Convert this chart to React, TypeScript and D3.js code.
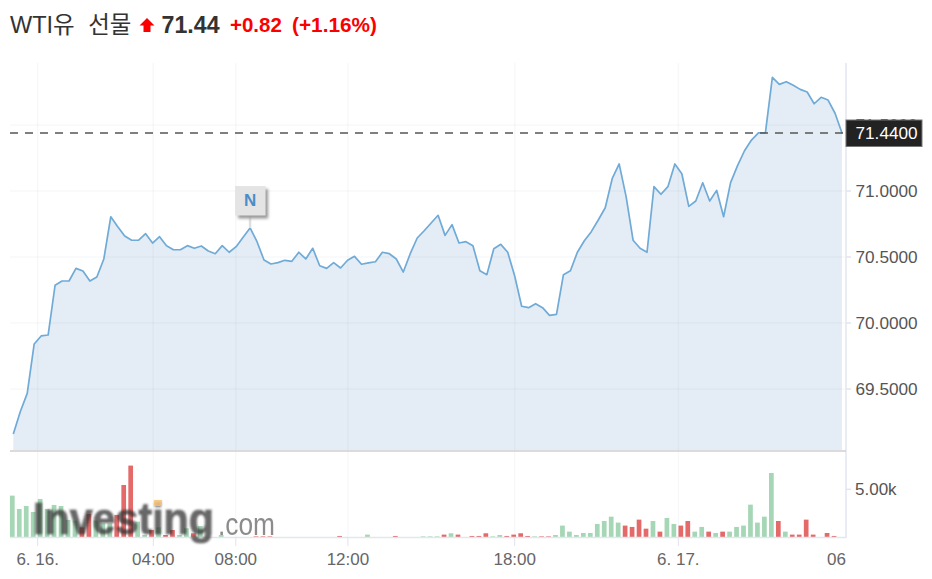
import React from "react";
import * as d3 from "d3";

const prices = [
  69.159, 69.328, 69.467, 69.841, 69.902, 69.909, 70.286, 70.318, 70.318, 70.414, 70.394, 70.318, 70.348, 70.485, 70.805, 70.73, 70.659, 70.627, 70.627, 70.677,
  70.606, 70.654, 70.586, 70.555, 70.555, 70.586, 70.566, 70.583, 70.545, 70.525, 70.586, 70.536, 70.578, 70.649, 70.72, 70.616, 70.477, 70.447, 70.457, 70.475,
  70.467, 70.536, 70.485, 70.566, 70.434, 70.414, 70.457, 70.417, 70.475, 70.505, 70.445, 70.455, 70.464, 70.536, 70.525, 70.485, 70.386, 70.525, 70.644, 70.699,
  70.758, 70.816, 70.664, 70.745, 70.606, 70.616, 70.586, 70.396, 70.366, 70.563, 70.596, 70.536, 70.356, 70.127, 70.116, 70.146, 70.116, 70.058, 70.066, 70.366,
  70.396, 70.536, 70.623, 70.692, 70.78, 70.873, 71.093, 71.205, 70.957, 70.627, 70.566, 70.536, 71.033, 70.975, 71.033, 71.205, 71.131, 70.884, 70.924, 71.063,
  70.924, 71.005, 70.805, 71.063, 71.192, 71.305, 71.386, 71.44, 71.44, 71.861, 71.808, 71.828, 71.801, 71.77, 71.75, 71.661, 71.71, 71.689, 71.589, 71.44,
];

const volumeUp = [
  4340, 2950, 3260, 2640, 3990, 2950, 3370, 3260, 1810, 1740, 0, 0, 1740, 1460, 1460, 0, 0, 0, 1630, 240,
  0, 1040, 0, 0, 240, 940, 0, 1180, 0, 0, 240, 0, 0, 0, 0, 0, 0, 0, 0, 0,
  0, 0, 0, 0, 0, 0, 0, 0, 0, 0, 0, 280, 0, 0, 0, 0, 0, 0, 0, 100,
  100, 100, 0, 420, 0, 0, 0, 0, 0, 100, 240, 0, 0, 0, 0, 100, 0, 0, 240, 1220,
  590, 240, 450, 450, 1390, 1700, 2150, 1530, 0, 0, 0, 0, 1700, 0, 2010, 1390, 0, 0, 590, 1080,
  0, 450, 0, 590, 1080, 1220, 3400, 1530, 2150, 6700, 0, 590, 0, 0, 0, 0, 0, 0, 0, 0,
];
const volumeDown = [
  0, 0, 0, 0, 0, 0, 0, 0, 0, 0, 1040, 2430, 0, 0, 0, 2330, 5450, 7470, 0, 0,
  760, 0, 240, 760, 0, 0, 420, 0, 0, 0, 0, 0, 0, 0, 0, 100, 100, 100, 0, 0,
  0, 0, 0, 0, 0, 0, 0, 140, 0, 0, 0, 0, 0, 0, 0, 140, 0, 0, 0, 0,
  0, 0, 280, 0, 280, 0, 140, 140, 420, 0, 0, 140, 280, 420, 140, 0, 100, 100, 0, 0,
  0, 0, 0, 0, 0, 0, 0, 0, 1220, 1080, 1840, 900, 0, 590, 0, 0, 1220, 1700, 0, 0,
  590, 0, 590, 0, 0, 0, 0, 0, 0, 0, 1700, 0, 280, 280, 1840, 280, 0, 450, 140, 0,
];

const priceTicks = [69.5, 70, 70.5, 71, 71.5];
const timeTickIndex = [3.5, 20.1, 31.95, 48.05, 72, 95.5];
const timeTickLabels = ["6. 16.", "04:00", "08:00", "12:00", "18:00", "6. 17."];
const lastPrice = 71.44;
const newsIndex = 34;

const FONT = '"Liberation Sans", Arial, "Noto Sans CJK KR", sans-serif';

const x = d3.scaleLinear().domain([0, prices.length - 1]).range([13.3, 842]);
const y = d3.scaleLinear().domain([69.5, 71]).range([389, 191]);
const yVol = d3.scaleLinear().domain([0, 5000]).range([537.3, 489.3]);

const PANEL_BOTTOM = 451;

export default function App() {
  const indices = d3.range(prices.length);
  const line = d3.line<number>().x((i) => x(i)).y((i) => y(prices[i]))(indices) ?? "";
  const area = d3.area<number>().x((i) => x(i)).y0(450).y1((i) => y(prices[i]))(indices) ?? "";
  const grid = "#7f8ca3";
  const nx = x(newsIndex);
  const ny = y(prices[newsIndex]);

  return (
    <svg
      width={932}
      height={579}
      style={{ position: "absolute", left: 0, top: 0, fontFamily: FONT }}
    >
      <defs>
        <filter id="logoBlur" x="-5%" y="-20%" width="110%" height="140%">
          <feGaussianBlur stdDeviation="1.2" />
        </filter>
        <filter id="lightBlur" x="-5%" y="-20%" width="110%" height="140%">
          <feGaussianBlur stdDeviation="0.5" />
        </filter>
        <filter id="softShadow" x="-30%" y="-30%" width="170%" height="170%">
          <feGaussianBlur stdDeviation="1.4" />
        </filter>
      </defs>
      <rect width={932} height={579} fill="#fff" />

      {/* header */}
      <text x={10} y={33} fontSize={23.5} fill="#333" wordSpacing={7}>WTI유 선물</text>
      <path d="M147 18 L154.5 25.5 L150.5 25.5 L150.5 32 L143.5 32 L143.5 25.5 L139.5 25.5 Z" fill="#fb0000" />
      <text x={161.5} y={33} fontSize={23.2} fontWeight="bold" fill="#333">71.44</text>
      <text x={230} y={32} fontSize={20.5} fontWeight="bold" fill="#fb0000">+0.82</text>
      <text x={292} y={32} fontSize={20.8} fontWeight="bold" fill="#fb0000">(+1.16%)</text>

      {/* area and line */}
      <path d={area} fill="#e4edf5" />
      {priceTicks.map((t) => (
        <line key={t} x1={10} x2={851} y1={y(t)} y2={y(t)} stroke={grid} strokeOpacity={0.06} strokeWidth={1.5} />
      ))}
      {timeTickIndex.map((t) => (
        <g key={t}>
          <line x1={x(t)} x2={x(t)} y1={63} y2={PANEL_BOTTOM} stroke={grid} strokeOpacity={0.06} strokeWidth={1.5} />
          <line x1={x(t)} x2={x(t)} y1={PANEL_BOTTOM} y2={537} stroke={grid} strokeOpacity={0.09} strokeWidth={1} />
          <line x1={x(t)} x2={x(t)} y1={537} y2={546} stroke="#dfe3ea" strokeWidth={1} />
        </g>
      ))}
      <path d={line} fill="none" stroke="#70aad7" strokeWidth={1.7} strokeLinejoin="round" />

      {/* axes frame */}
      <line x1={846} x2={846} y1={63} y2={538} stroke="#e2e6ee" strokeWidth={1.5} />
      <line x1={10} x2={846} y1={PANEL_BOTTOM} y2={PANEL_BOTTOM} stroke="#cfcfcf" strokeWidth={1.5} />

      {/* volume */}
      {indices.map((i) => (
        <g key={i}>
          {volumeUp[i] > 0 && (
            <rect x={x(i) - 1 - 2.35} width={4.7} y={yVol(volumeUp[i])} height={yVol(0) - yVol(volumeUp[i])} fill="#a5d6b5" />
          )}
          {volumeDown[i] > 0 && (
            <rect x={x(i) - 1 - 2.35} width={4.7} y={yVol(volumeDown[i])} height={yVol(0) - yVol(volumeDown[i])} fill="#e46a6a" />
          )}
        </g>
      ))}
      <line x1={10} x2={846} y1={537.5} y2={537.5} stroke="#e2e6ee" strokeWidth={1.5} />

      {/* logo watermark */}
      <g filter="url(#logoBlur)">
        <text x={33} y={534} fontSize={44} fontWeight="bold" fill="#2f2f2f" fillOpacity={0.72} stroke="#2f2f2f" strokeOpacity={0.45} strokeWidth={1.2} textLength={181} lengthAdjust="spacingAndGlyphs">Investing</text>
      </g>
      <g filter="url(#lightBlur)">
        <text x={218} y={535} fontSize={31} fill="#666" fillOpacity={0.75} textLength={57} lengthAdjust="spacingAndGlyphs">.com</text>
      </g>
      <rect x={154} y={500} width={8} height={6} fill="#f9c57a" fillOpacity={0.85} filter="url(#lightBlur)" />

      {/* last price line */}
      <line x1={10} x2={846} y1={y(lastPrice)} y2={y(lastPrice)} stroke="#555" strokeWidth={1.5} strokeDasharray="8 7" />

      {/* price axis */}
      {priceTicks.map((t) => (
        <g key={t}>
          <line x1={846} x2={851} y1={y(t)} y2={y(t)} stroke="#e2e6ee" strokeWidth={1.5} />
          <text x={855.5} y={y(t) + 6} fontSize={17.2} fill="#555">{d3.format(".4f")(t)}</text>
        </g>
      ))}
      <rect x={846} y={120} width={76} height={26.5} fill="#222" stroke="#777" strokeWidth={1} />
      <text x={855.5} y={139} fontSize={17.2} fill="#fff">{d3.format(".4f")(lastPrice)}</text>

      {/* volume axis */}
      <line x1={846} x2={851} y1={yVol(5000)} y2={yVol(5000)} stroke="#e2e6ee" strokeWidth={1.5} />
      <text x={855} y={495} fontSize={17} fill="#555">5.00k</text>

      {/* time axis */}
      {timeTickIndex.map((t, i) => (
        <text key={t} x={x(t)} y={565} fontSize={17} fill="#666" textAnchor="middle">{timeTickLabels[i]}</text>
      ))}
      <text x={846} y={565} fontSize={17} fill="#666" textAnchor="end">06</text>

      {/* news marker */}
      <line x1={nx} x2={nx} y1={215} y2={ny} stroke="#dedede" strokeWidth={2.5} />
      <rect x={nx - 12} y={189} width={30} height={29.5} fill="#999" filter="url(#softShadow)" />
      <rect x={nx - 15} y={186} width={30.5} height={29.5} fill="#e4e4e4" />
      <text x={nx} y={206} fontSize={17} fontWeight="bold" fill="#4a8ec9" textAnchor="middle">N</text>
    </svg>
  );
}
